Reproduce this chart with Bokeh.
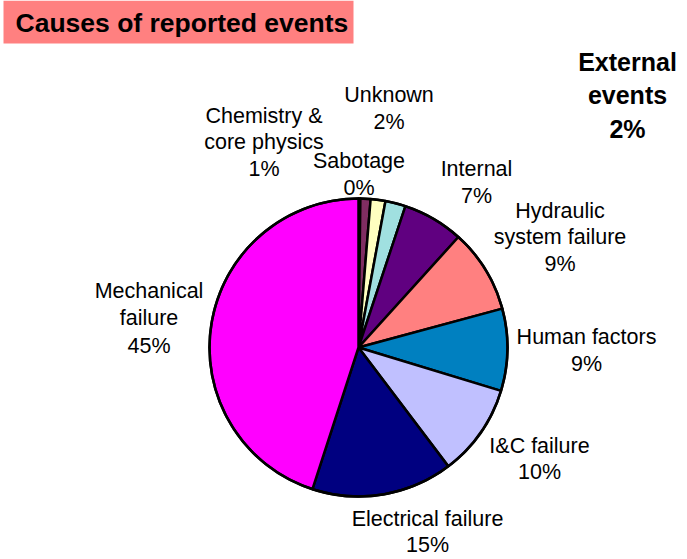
import numpy as np
from bokeh.plotting import figure
from bokeh.models import Range1d, ColumnDataSource
from bokeh.embed import file_html
from bokeh.resources import INLINE
from bokeh.core.properties import value

# ---------------- data ----------------
TITLE = "Causes of reported events"
categories = ["Sabotage", "Chemistry &\ncore physics", "External\nevents", "Unknown",
              "Internal", "Hydraulic\nsystem failure", "Human factors", "I&C failure",
              "Electrical failure", "Mechanical\nfailure"]
values = [0.2, 1.1, 1.6, 2.2, 6.6, 9.1, 8.9, 10.0, 15.3, 45.0]
colors = ["#9999FF", "#802D62", "#FFFFC0", "#A0E0E0", "#600080", "#FF8080",
          "#0080C0", "#C0C0FF", "#000080", "#FF00FF"]

# ---------------- layout (image pixel coordinates) ----------------
W, H = 687, 559
CX, CY, R = 358, 347, 149
# label anchor: center x, first-line baseline y, line spacing, bold?
label_pos = {
    "Sabotage": (358.5, 167, 27.5, False),
    "Chemistry &\ncore physics": (263.5, 122, 26.5, False),
    "External\nevents": (627, 68, 33.5, True),
    "Unknown": (388.5, 101, 27, False),
    "Internal": (476, 175, 27.5, False),
    "Hydraulic\nsystem failure": (559.5, 217, 26.5, False),
    "Human factors": (586, 343, 27.5, False),
    "I&C failure": (539, 452, 26.5, False),
    "Electrical failure": (427, 525, 26, False),
    "Mechanical\nfailure": (148.5, 297, 27.5, False),
}
REG_FS, BOLD_FS, TITLE_FS = 21.5, 25, 26.5


def fy(y_img):
    return H - y_img


p = figure(width=W, height=H, x_range=Range1d(0, W), y_range=Range1d(0, H),
           output_backend="svg", toolbar_location=None, min_border=0)
p.axis.visible = False
p.grid.visible = False
p.outline_line_color = None
p.background_fill_color = "white"
p.border_fill_color = "white"

# title box
p.quad(left=[3], right=[353], top=[fy(0)], bottom=[fy(43)], fill_color="#FF8080", line_color=None)
p.text(x=[15], y=[fy(33 - 0.38 * TITLE_FS)], text=[TITLE], text_font=value("Liberation Sans"),
       text_font_size=f"{TITLE_FS}px", text_font_style="bold", text_color="black",
       text_align="left", text_baseline="middle")

# pie
vals = np.array(values, dtype=float)
frac = vals / vals.sum()
cum = np.concatenate([[0.0], np.cumsum(frac)])
start = np.pi / 2 - 2 * np.pi * cum[:-1]
end = np.pi / 2 - 2 * np.pi * cum[1:]
src = ColumnDataSource(dict(start=start, end=end, color=colors))
p.wedge(x=CX, y=fy(CY), radius=R, start_angle="start", end_angle="end", direction="clock",
        fill_color="color", line_color="black", line_width=2.5, source=src)
p.circle(x=[CX], y=[fy(CY)], radius=R, fill_color=None, line_color="black", line_width=2.5)

# labels
xs, ys, ts, bold = [], [], [], []
for cat, v in zip(categories, values):
    lx, ly, ls, b = label_pos[cat]
    fs = BOLD_FS if b else REG_FS
    off = 0.27 * fs if b else 0.31 * fs
    lines = cat.split("\n") + [f"{int(round(v))}%"]
    for i, t in enumerate(lines):
        xs.append(lx)
        ys.append(fy(ly + i * ls - off))
        ts.append(t)
        bold.append(b)

reg = [i for i, b in enumerate(bold) if not b]
bld = [i for i, b in enumerate(bold) if b]
p.text(x=[xs[i] for i in reg], y=[ys[i] for i in reg], text=[ts[i] for i in reg],
       text_font=value("Liberation Sans"), text_font_size=f"{REG_FS}px", text_color="black",
       text_align="center", text_baseline="middle")
p.text(x=[xs[i] for i in bld], y=[ys[i] for i in bld], text=[ts[i] for i in bld],
       text_font=value("Liberation Sans"), text_font_size=f"{BOLD_FS}px", text_font_style="bold",
       text_color="black", text_align="center", text_baseline="middle")

open("out.html", "w").write(file_html(p, INLINE))
